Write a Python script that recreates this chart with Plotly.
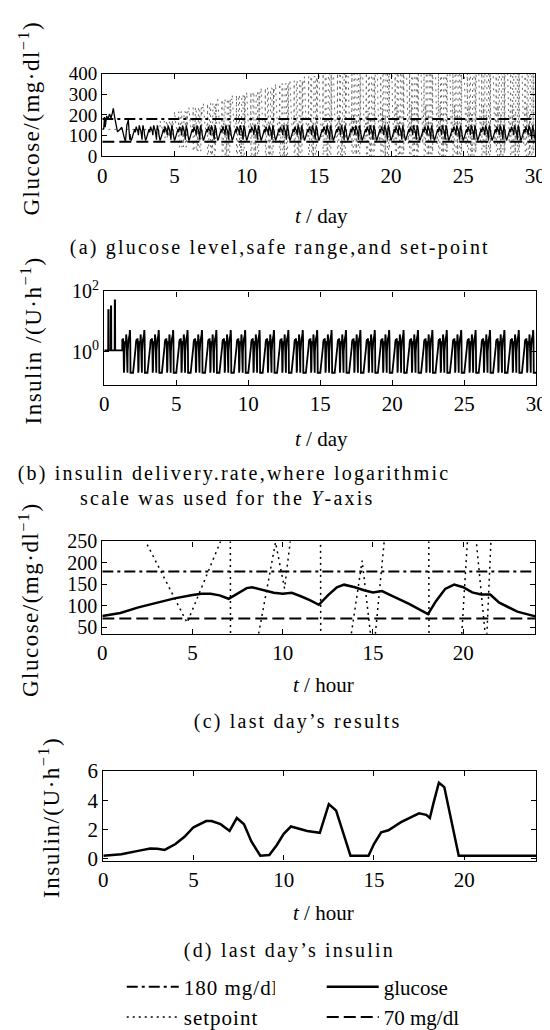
import plotly.graph_objects as go

W, H = 550, 1030

# ------------------------------------------------------------------ data
N_DAYS = 30
SAFE_HIGH = 180          # mg/dl, dash-dot
SAFE_LOW = 70            # mg/dl, dashed

# last day glucose (panel c), hour -> mg/dl
glucose_day_hours = [0, 1, 2, 3, 4, 5, 5.5, 6, 6.5, 7, 7.5, 8, 8.3, 9, 9.5, 10, 10.5, 11, 11.5, 12,
                     12.5, 13, 13.4, 14, 14.5, 15, 15.5, 16, 17, 18.05, 18.5, 19, 19.5, 20, 20.5, 21,
                     21.5, 22, 23, 24]
glucose_day_vals = [76, 83, 96, 107, 117, 125, 128, 128, 124, 116, 128, 141, 143, 136, 130, 128, 130, 122, 113, 102,
                    124, 143, 149, 143, 136, 131, 134, 124, 104, 80, 111, 139, 149, 143, 131, 126,
                    126, 107, 86, 75]

# last day setpoint (panel c); 650 / -390 = far outside the plotted range
setpoint_day_hours = [0, 2.4, 4.7, 6.6, 6.85, 7.08, 7.12, 8.45, 8.6, 9.6, 10.1, 10.45, 10.7, 12.08, 12.12,
                      13.65, 13.75, 14.4, 14.9, 15.0, 15.05, 15.1, 15.65, 15.9, 18.08, 18.12, 19.8, 19.9,
                      20.25, 20.5, 20.6, 20.7, 21.25, 21.3, 21.55, 21.8, 24]
setpoint_day_vals = [650, 250, 60, 255, 650, 650, -390, -390, 20, 248, 140, 262, 650, 650, -390,
                     -390, 20, 205, 20, -390, -390, 20, 262, 650, 650, -390, -390, 20,
                     262, 650, 650, 262, 20, 20, 262, 650, 650]

# last day insulin (panel d), hour -> U/h
insulin_day_hours = [0, 1, 2, 2.6, 3, 3.4, 4, 4.5, 5, 5.7, 6, 6.5, 7, 7.4, 7.8, 8.2, 8.7, 9.2, 9.6, 10,
                     10.4, 10.8, 11.3, 12, 12.5, 12.9, 13.3, 13.7, 14.7, 15, 15.4, 15.8, 16.5, 17, 17.5,
                     17.9, 18.1, 18.3, 18.6, 18.9, 19.3, 19.7, 24]
insulin_day_vals = [0.2, 0.3, 0.55, 0.7, 0.67, 0.6, 1.0, 1.5, 2.15, 2.57, 2.57, 2.36, 1.9, 2.78, 2.36, 1.2, 0.2, 0.25, 0.9, 1.7,
                    2.2, 2.05, 1.9, 1.77, 3.73, 3.3, 1.83, 0.2, 0.2, 1.0, 1.8, 1.94, 2.5, 2.78, 3.1,
                    3.0, 2.78, 3.8, 5.2, 4.9, 2.57, 0.2, 0.2]

# start-up period of the 30-day run (panels a, b)
glucose_start_days = [0, 0.1, 0.15, 0.2, 0.3, 0.4, 0.5, 0.6, 0.7, 0.76, 0.85, 0.95, 1.05, 1.2, 1.35, 1.5, 1.6, 1.7, 1.8, 1.9]
glucose_start_vals = [130, 135, 190, 140, 195, 180, 205, 185, 210, 232, 190, 150, 118, 128, 140, 95, 70, 150, 175, 80]
GLUCOSE_START_END = 1.9

insulin_start_days = [0, 0.27, 0.28, 0.30, 0.31, 0.45, 0.46, 0.48, 0.49, 0.72, 0.73, 0.75, 0.76, 1.25]
insulin_start_vals = [1.1, 1.1, 24, 24, 1.1, 1.1, 32, 32, 1.1, 1.1, 50, 50, 1.1, 1.1]
INSULIN_START_END = 1.25

# daily swing of the setpoint in panel (a): highest value reached each day
SETPOINT_CENTER = 130
setpoint_peak_by_day = [130, 130, 130, 130, 170, 215, 235, 255, 275, 295, 310, 330, 350, 365, 385,
                        400, 430, 470, 520, 580, 650, 650, 650, 650, 650, 650, 650, 650, 650, 650]
SETPOINT_TEMPLATE_PEAK = 650

x_ticks_day = [0, 5, 10, 15, 20, 25, 30]
x_ticks_hour = [0, 5, 10, 15, 20]
y_ticks_a = [0, 100, 200, 300, 400]
y_ticks_b = [1, 100]
y_ticktext_b = ["10<sup>0</sup>", "10<sup>2</sup>"]
y_ticks_c = [50, 100, 150, 200, 250]
y_ticks_d = [0, 2, 4, 6]


# ------------------------------------------------------------------ build 30-day series
def tile(hours, vals, start_day, scale=None):
    xs, ys = [], []
    for d in range(N_DAYS):
        f = 1.0 if scale is None else scale[d]
        for h, v in zip(hours, vals):
            t = d + h / 24.0
            if t < start_day:
                continue
            xs.append(t)
            ys.append(SETPOINT_CENTER + f * (v - SETPOINT_CENTER) if scale is not None else v)
    return xs, ys


gx, gy = tile(glucose_day_hours, glucose_day_vals, GLUCOSE_START_END)
glu30_x = glucose_start_days + gx
glu30_y = glucose_start_vals + gy

ix, iy = tile(insulin_day_hours, insulin_day_vals, INSULIN_START_END)
ins30_x = insulin_start_days + ix
ins30_y = insulin_start_vals + iy

sp_scale = [(p - SETPOINT_CENTER) / (SETPOINT_TEMPLATE_PEAK - SETPOINT_CENTER) for p in setpoint_peak_by_day]
sp30_x, sp30_y = tile(setpoint_day_hours, setpoint_day_vals, 0, sp_scale)

# ------------------------------------------------------------------ figure
FONT = "Liberation Serif, Times New Roman, DejaVu Serif, serif"
DASHDOT = "11px,4px,3px,4px"
DASHED = "12px,5px"
DOTTED = "2px,4px"

fig = go.Figure()

# panel a
fig.add_trace(go.Scatter(x=sp30_x, y=sp30_y, mode="lines", xaxis="x", yaxis="y",
                         line=dict(color="#6a6a6a", width=1, dash=DOTTED), showlegend=False))
fig.add_trace(go.Scatter(x=[0, N_DAYS], y=[SAFE_HIGH, SAFE_HIGH], mode="lines", xaxis="x", yaxis="y",
                         line=dict(color="black", width=2, dash=DASHDOT), showlegend=False))
fig.add_trace(go.Scatter(x=[0, N_DAYS], y=[SAFE_LOW, SAFE_LOW], mode="lines", xaxis="x", yaxis="y",
                         line=dict(color="black", width=2, dash=DASHED), showlegend=False))
fig.add_trace(go.Scatter(x=glu30_x, y=glu30_y, mode="lines", xaxis="x", yaxis="y",
                         line=dict(color="black", width=1.3), showlegend=False))

# panel b
fig.add_trace(go.Scatter(x=ins30_x, y=ins30_y, mode="lines", xaxis="x2", yaxis="y2",
                         line=dict(color="black", width=1.8), showlegend=False))

# panel c (also provides the legend)
fig.add_trace(go.Scatter(x=[0, 24], y=[SAFE_HIGH, SAFE_HIGH], mode="lines", xaxis="x3", yaxis="y3",
                         name="180 mg/dl", legend="legend",
                         line=dict(color="black", width=2, dash=DASHDOT)))
fig.add_trace(go.Scatter(x=setpoint_day_hours, y=setpoint_day_vals, mode="lines", xaxis="x3", yaxis="y3",
                         name="setpoint", legend="legend",
                         line=dict(color="black", width=1.5, dash=DOTTED)))
fig.add_trace(go.Scatter(x=glucose_day_hours, y=glucose_day_vals, mode="lines", xaxis="x3", yaxis="y3",
                         name="glucose", legend="legend2",
                         line=dict(color="black", width=2.5)))
fig.add_trace(go.Scatter(x=[0, 24], y=[SAFE_LOW, SAFE_LOW], mode="lines", xaxis="x3", yaxis="y3",
                         name="70 mg/dl", legend="legend2",
                         line=dict(color="black", width=2, dash=DASHED)))

# panel d
fig.add_trace(go.Scatter(x=insulin_day_hours, y=insulin_day_vals, mode="lines", xaxis="x4", yaxis="y4",
                         line=dict(color="black", width=2.5), showlegend=False))


def px_x(p):
    return p / W


def px_y(p):
    return 1 - p / H


def dom_y(top, bottom):
    return [1 - bottom / H, 1 - top / H]


def axis_common(size):
    return dict(showline=True, linecolor="black", linewidth=1.3, mirror="ticks",
                ticks="inside", ticklen=5, tickcolor="black", tickwidth=1.2,
                showgrid=False, zeroline=False,
                tickfont=dict(family=FONT, size=size, color="black"))


fig.update_layout(
    width=W, height=H, margin=dict(l=0, r=0, t=0, b=0),
    paper_bgcolor="white", plot_bgcolor="white",
    font=dict(family=FONT, color="black"),
    xaxis=dict(domain=[px_x(92), px_x(538)], anchor="y", range=[0, 30], tickvals=x_ticks_day, **axis_common(21)),
    yaxis=dict(domain=dom_y(54, 139), anchor="x", range=[0, 400], tickvals=y_ticks_a, **axis_common(19)),
    xaxis2=dict(domain=[px_x(94), px_x(539)], anchor="y2", range=[0, 30], tickvals=x_ticks_day, **axis_common(21)),
    yaxis2=dict(domain=dom_y(278, 374), anchor="x2", type="log", range=[-1.1, 2],
                tickvals=y_ticks_b, ticktext=y_ticktext_b, **axis_common(20)),
    xaxis3=dict(domain=[px_x(92), px_x(538)], anchor="y3", range=[0, 24], tickvals=x_ticks_hour, **axis_common(21)),
    yaxis3=dict(domain=dom_y(535, 630), anchor="x3", range=[34, 250], tickvals=y_ticks_c, **axis_common(20)),
    xaxis4=dict(domain=[px_x(93), px_x(539)], anchor="y4", range=[0, 24], tickvals=x_ticks_hour, **axis_common(21)),
    yaxis4=dict(domain=dom_y(771, 863), anchor="x4", range=[-0.13, 6], tickvals=y_ticks_d, **axis_common(21)),
    legend=dict(x=px_x(112), y=px_y(972), xanchor="left", yanchor="top", bgcolor="rgba(0,0,0,0)",
                font=dict(family=FONT, size=21, color="black"), itemwidth=52, tracegroupgap=0),
    legend2=dict(x=px_x(318), y=px_y(972), xanchor="left", yanchor="top", bgcolor="rgba(0,0,0,0)",
                 font=dict(family=FONT, size=21, color="black"), itemwidth=52, tracegroupgap=0),
)


def ann(text, x, y, size=20, angle=0, xanchor="center"):
    fig.add_annotation(text=text, x=px_x(x), y=px_y(y), xref="paper", yref="paper",
                       showarrow=False, textangle=angle, xanchor=xanchor, yanchor="middle",
                       font=dict(family=FONT, size=size, color="black"))


ann("Glucose/(mg·dl<sup>−1</sup>)", 17, 100, size=23, angle=-90)
ann("Insulin /(U·h<sup>−1</sup>)", 19, 328, size=23, angle=-90)
ann("Glucose/(mg·dl<sup>−1</sup>)", 17, 595, size=23, angle=-90)
ann("Insulin/(U·h<sup>−1</sup>)", 38, 818, size=23, angle=-90)

ann("<i>t</i> / day", 318, 200, size=21)
ann("<i>t</i> / day", 318, 430, size=21)
ann("<i>t</i> / hour", 320, 683, size=21)
ann("<i>t</i> / hour", 320, 917, size=21)

ann("(a) glucose level,safe range,and set-point", 275, 233, size=20)
ann("(b) insulin delivery.rate,where logarithmic", 51, 465, size=20, xanchor="left")
ann("scale was used for the <i>Y</i>-axis", 100, 490, size=20, xanchor="left")
ann("(c) last day’s results", 294, 720, size=20)
ann("(d) last day’s insulin", 285, 955, size=20)

post = """
(function(){
  function sp(){
    document.querySelectorAll('.annotation-text').forEach(function(t){
      var s = t.textContent || '';
      if (s.charAt(0) === '(' || s.indexOf('scale') === 0) { t.style.letterSpacing = '2.2px'; }
      else if (s.indexOf('Glucose') === 0 || s.indexOf('Insulin') === 0) { t.style.letterSpacing = '1.5px'; }
    });
    document.querySelectorAll('.legendtext').forEach(function(t){ t.style.letterSpacing = '1px'; });
  }
  sp();
})();
"""

fig.write_html("out.html", post_script=post)
